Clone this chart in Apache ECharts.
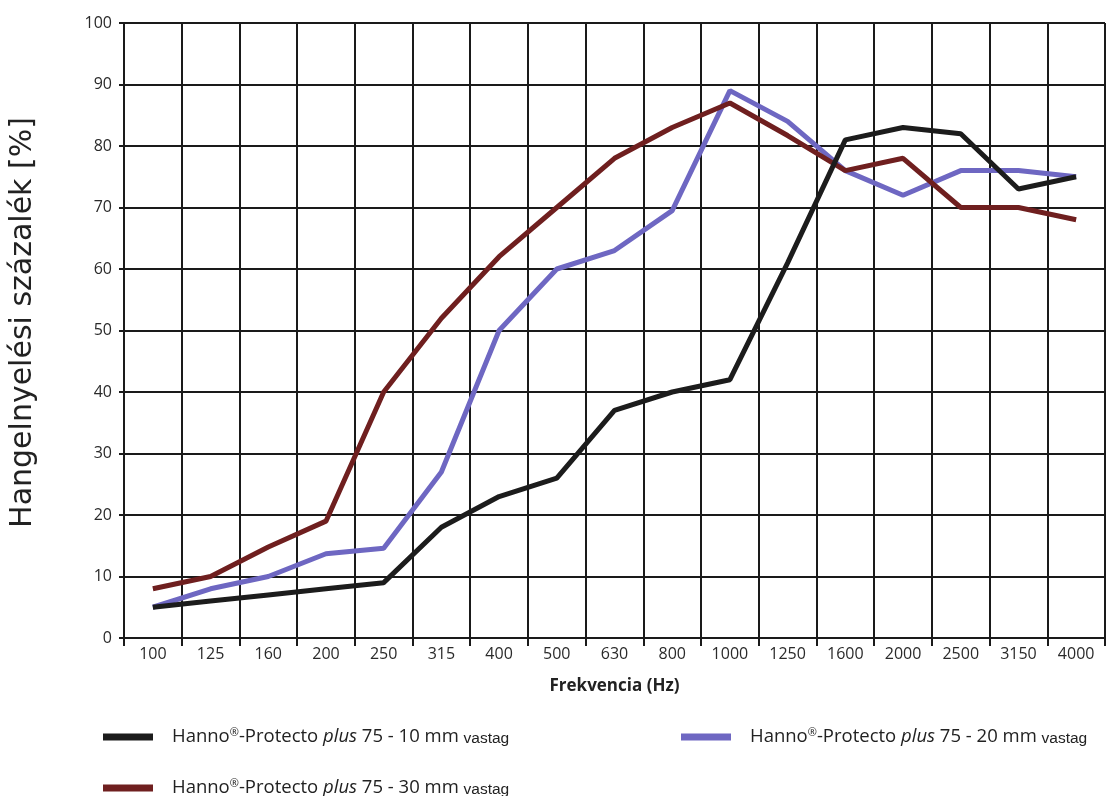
<!DOCTYPE html>
<html>
<head>
<meta charset="utf-8">
<script src="https://cdn.jsdelivr.net/npm/echarts@6/dist/echarts.min.js"></script>
<style>
html,body{margin:0;padding:0;background:#fff;}
#chart{width:1106px;height:796px;}
</style>
</head>
<body>
<div id="chart"></div>
<script>
const categories = ['100','125','160','200','250','315','400','500','630','800','1000','1250','1600','2000','2500','3150','4000'];
const yTicks = [0,10,20,30,40,50,60,70,80,90,100];
const seriesNames = ['10 mm', '20 mm', '30 mm'];
const values10mm = [5, 6, 7, 8, 9, 18, 23, 26, 37, 40, 42, 61, 81, 83, 82, 73, 75];
const values20mm = [5, 8, 10, 13.7, 14.6, 27, 50, 60, 63, 69.5, 89, 84, 76, 72, 76, 76, 75];
const values30mm = [8, 10, 14.8, 19, 40, 52, 62, 70, 78, 83, 87, 81.7, 76, 78, 70, 70, 68];

const colors = ['#1c1c1c', '#6e67c2', '#6f1f1f'];

const chart = echarts.init(document.getElementById('chart'), null, {renderer: 'canvas'});

const rich = {
  a: {fontFamily: 'Open Sans', fontSize: 18.5, color: '#222'},
  sup: {fontFamily: 'Open Sans', fontSize: 11, color: '#222', verticalAlign: 'top', padding: [0,0,9,0]},
  i: {fontFamily: 'Open Sans', fontSize: 18.5, fontStyle: 'italic', color: '#222'},
  v: {fontFamily: 'Liberation Sans', fontSize: 15.5, color: '#222', padding: [3,0,0,0]},
  sp: {width: 14}
};
function legendFmt(name) {
  const thick = name.split(' ')[0];
  return '{sp|}{a|Hanno}{sup|®}{a|-Protecto }{i|plus}{a| 75 - ' + thick + ' mm }{v|vastag}';
}
function makeLegend(name, left, top) {
  return {
    data: [name],
    left: left,
    top: top,
    padding: 0,
    icon: 'rect',
    itemWidth: 50,
    itemHeight: 7,
    formatter: legendFmt,
    textStyle: {rich: rich},
    selectedMode: false
  };
}

const option = {
  backgroundColor: '#ffffff',
  animation: false,
  grid: {left: 123, right: 1, top: 23, bottom: 158},
  legend: [
    makeLegend(seriesNames[0], 103, 727),
    makeLegend(seriesNames[1], 681, 727),
    makeLegend(seriesNames[2], 103, 778)
  ],
  xAxis: {
    type: 'category',
    data: categories,
    boundaryGap: true,
    name: 'Frekvencia (Hz)',
    nameLocation: 'middle',
    nameGap: 40,
    nameTextStyle: {fontFamily: 'Open Sans', fontWeight: 'bold', fontSize: 17, color: '#222'},
    axisLine: {lineStyle: {color: '#1a1a1a', width: 2}},
    axisTick: {show: true, length: 8, lineStyle: {color: '#1a1a1a', width: 2}},
    axisLabel: {fontFamily: 'Open Sans', fontSize: 16, color: '#2a2a2a', margin: 8},
    splitLine: {show: true, lineStyle: {color: '#1a1a1a', width: 2}}
  },
  yAxis: {
    type: 'value',
    min: yTicks[0],
    max: yTicks[yTicks.length - 1],
    interval: 10,
    name: 'Hangelnyelési százalék [%]',
    nameLocation: 'middle',
    nameGap: 86,
    nameTextStyle: {fontFamily: 'DejaVu Sans', fontSize: 30, color: '#222', padding: [0, 0, 0, 16]},
    axisLine: {show: true, lineStyle: {color: '#1a1a1a', width: 2}},
    axisTick: {show: true, length: 5, lineStyle: {color: '#1a1a1a', width: 2}},
    axisLabel: {fontFamily: 'Open Sans', fontSize: 16, color: '#2a2a2a', margin: 12},
    splitLine: {show: true, lineStyle: {color: '#1a1a1a', width: 2}}
  },
  series: [
    {name: seriesNames[0], type: 'line', data: values10mm, symbol: 'none', color: colors[0], lineStyle: {width: 5, color: colors[0]}, z: 3},
    {name: seriesNames[1], type: 'line', data: values20mm, symbol: 'none', color: colors[1], lineStyle: {width: 5, color: colors[1]}, z: 2},
    {name: seriesNames[2], type: 'line', data: values30mm, symbol: 'none', color: colors[2], lineStyle: {width: 5, color: colors[2]}, z: 2}
  ]
};
chart.setOption(option);
</script>
</body>
</html>
